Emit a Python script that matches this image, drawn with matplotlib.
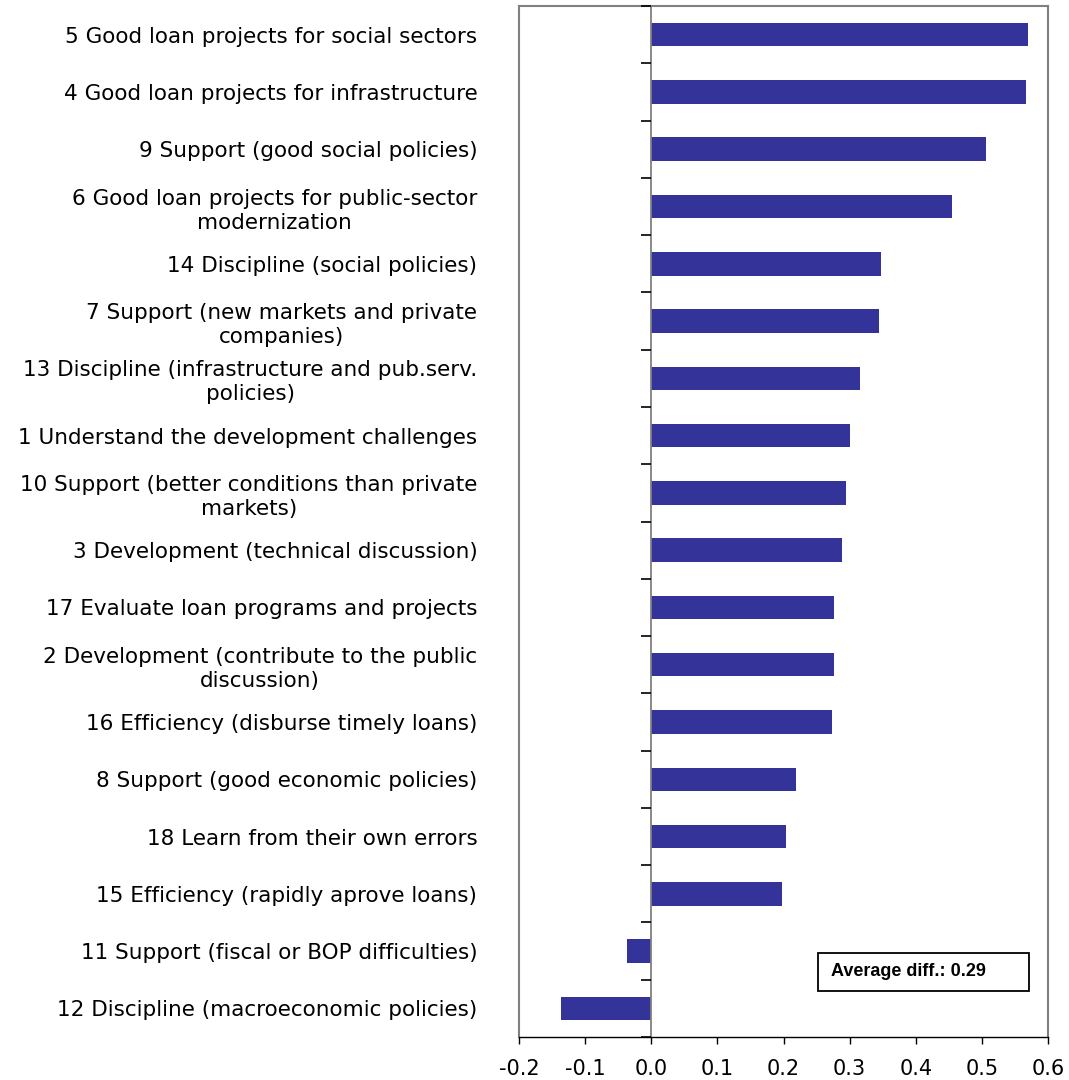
import numpy as np
import matplotlib
matplotlib.use("Agg")
import matplotlib.pyplot as plt
from matplotlib.lines import TICKLEFT
from matplotlib.patches import Rectangle

labels = [
    "5 Good loan projects for social sectors",
    "4 Good loan projects for infrastructure",
    "9 Support (good social policies)",
    "6 Good loan projects for public-sector\nmodernization",
    "14 Discipline (social policies)",
    "7 Support (new markets and private\ncompanies)",
    "13 Discipline (infrastructure and pub.serv.\npolicies)",
    "1 Understand the development challenges",
    "10 Support (better conditions than private\nmarkets)",
    "3 Development (technical discussion)",
    "17 Evaluate loan programs and projects",
    "2 Development (contribute to the public\ndiscussion)",
    "16 Efficiency (disburse timely loans)",
    "8 Support (good economic policies)",
    "18 Learn from their own errors",
    "15 Efficiency (rapidly aprove loans)",
    "11 Support (fiscal or BOP difficulties)",
    "12 Discipline (macroeconomic policies)",
]
diffs = [0.570, 0.567, 0.506, 0.455, 0.348, 0.345, 0.315, 0.300, 0.294,
         0.288, 0.276, 0.276, 0.273, 0.219, 0.203, 0.197, -0.036, -0.136]
xticks = [-0.2, -0.1, 0.0, 0.1, 0.2, 0.3, 0.4, 0.5, 0.6]
avg_text = "Average diff.: 0.29"

bar_col = "#333399"
frame_col = "#808080"

fig = plt.figure(figsize=(10.69, 10.80), dpi=100)
ax = fig.add_axes([0.4855, 0.0398, 0.4949, 0.9546])

pos = np.arange(len(labels))
ax.barh(pos, diffs, height=0.41, color=bar_col, zorder=2)

ax.set_xlim(-0.2, 0.6)
ax.set_ylim(len(labels) - 0.5, -0.5)

ax.set_xticks(xticks)
ax.set_xticklabels([f"{t:.1f}" for t in xticks], fontsize=15)
ax.tick_params(axis="x", direction="out", length=5, width=1, color="black", pad=11)

ax.set_yticks(pos)
ax.set_yticklabels(labels, fontsize=15.5)
ax.tick_params(axis="y", length=0, pad=30)
for t in ax.get_yticklabels():
    t.set_multialignment("center")
    t.set_linespacing(1.25)

for s in ["left", "top", "right"]:
    ax.spines[s].set_color(frame_col)
    ax.spines[s].set_linewidth(1.5)
ax.spines["bottom"].set_color("black")
ax.spines["bottom"].set_linewidth(1.0)

# zero line with category separator ticks
ax.axvline(0, color=frame_col, lw=1.3, zorder=3)
bounds = np.arange(len(labels) + 1) - 0.5
ax.plot(np.zeros(len(bounds)), bounds, ls="none", marker=TICKLEFT,
        ms=7, mew=1.2, color="black", clip_on=False, zorder=4)

ax.add_patch(Rectangle((0.5647, 0.0449), 0.3988, 0.0369, transform=ax.transAxes,
                       fill=False, edgecolor="black", lw=1.3, zorder=5))
ax.text(0.589, 0.0592, avg_text, transform=ax.transAxes, fontsize=13,
        fontweight="bold", family="Liberation Sans", va="baseline", ha="left",
        zorder=6)

fig.savefig("out.png", dpi=100)
